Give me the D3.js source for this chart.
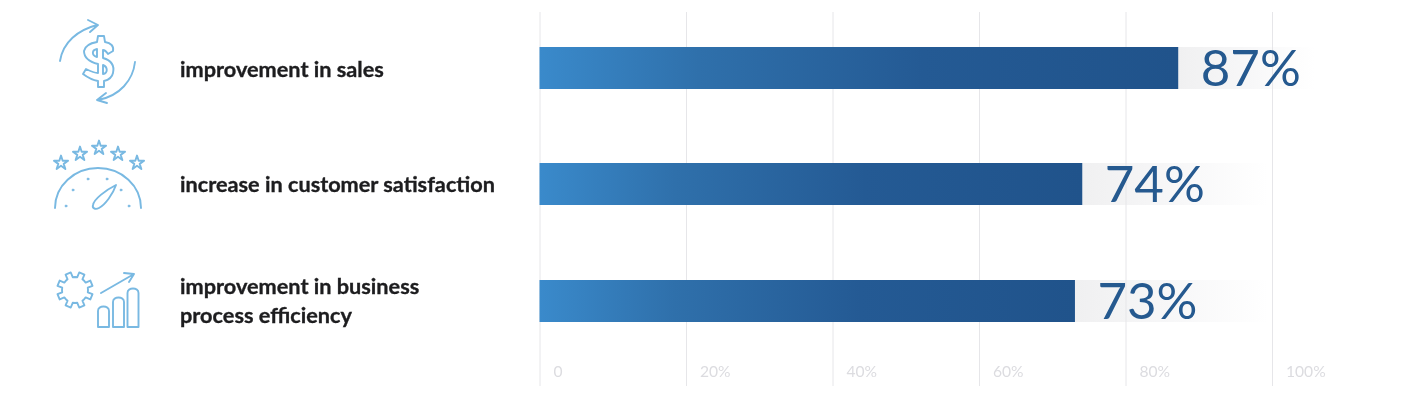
<!DOCTYPE html>
<html><head><meta charset="utf-8">
<script src="https://cdn.jsdelivr.net/npm/d3@7/dist/d3.min.js"></script>
<style>html,body{margin:0;padding:0;background:#fff}svg{display:block;filter:blur(0.5px)}text{font-family:Lato,"Open Sans",sans-serif}</style>
</head><body><svg id="c" width="1418" height="404"></svg>
<script>
const categories = [["improvement in sales"],["increase in customer satisfaction"],["improvement in business","process efficiency"]];
const values = [87.2,74.1,73.1];
const valueLabels = ["87%","74%","73%"];
const tickValues = [0,20,40,60,80,100];
const tickLabels = ["0","20%","40%","60%","80%","100%"];

const svg = d3.select("#c");
const x = d3.scaleLinear().domain([0,100]).range([539.5,1272]);
const barH = 42, barC = [68,184,301];
const defs = svg.append("defs");
const g1 = defs.append("linearGradient").attr("id","bar");
g1.append("stop").attr("offset","0").attr("stop-color","#3a8acb");
g1.append("stop").attr("offset","0.25").attr("stop-color","#2f70ab");
g1.append("stop").attr("offset","0.6").attr("stop-color","#245a94");
g1.append("stop").attr("offset","1").attr("stop-color","#20538b");
const g2 = defs.append("linearGradient").attr("id","fade");
g2.append("stop").attr("offset","0").attr("stop-color","#f0f0f1");
g2.append("stop").attr("offset","0.5").attr("stop-color","#f7f7f8");
g2.append("stop").attr("offset","1").attr("stop-color","#ffffff");

// grid and tick labels
const axis = d3.axisBottom(x).tickValues(tickValues).tickSize(-374).tickFormat((d,i)=>tickLabels[i]);
const ax = svg.append("g").attr("transform","translate(0,386)").call(axis);
ax.select(".domain").remove();
ax.selectAll("line").attr("stroke","#e6e6e9").attr("stroke-width",1);
ax.selectAll("text").attr("text-anchor","start").attr("dx",13.5)
  .attr("y",-9).attr("dy",0).attr("font-size",15.6).attr("fill","#dcdce0").attr("font-weight",400)
  .style("font-family","Lato");

// fading bands behind labels
svg.selectAll("rect.fade").data(values).join("rect").attr("class","fade")
  .attr("x",d=>x(d)).attr("y",(d,i)=>barC[i]-barH/2).attr("height",barH)
  .attr("width",(d,i)=>(i===0?1315:1268)-x(d)).attr("fill","url(#fade)");
ax.raise();
// bars
svg.selectAll("rect.bar").data(values).join("rect").attr("class","bar")
  .attr("x",x(0)).attr("y",(d,i)=>barC[i]-barH/2).attr("height",barH)
  .attr("width",d=>x(d)-x(0)).attr("fill","url(#bar)");
// value labels
svg.selectAll("text.val").data(values).join("text").attr("class","val")
  .attr("x",d=>x(d)+22.5).attr("y",(d,i)=>barC[i]+18)
  .attr("font-size",51).attr("fill","#25598f").attr("font-weight",400)
  .text((d,i)=>valueLabels[i]);
// category labels
const ly = [[77],[192],[294,323]];
categories.forEach((lines,i)=>lines.forEach((t,j)=>{
  svg.append("text").attr("x",180).attr("y",ly[i][j]).attr("font-size",21.7)
    .attr("font-weight",700).attr("fill","#1d1d1f").attr("stroke","#1d1d1f").attr("stroke-width",0.35).text(t);
}));

// icons
const ic = svg.append("g").attr("fill","none").attr("stroke","#79b9e2").attr("stroke-width",1.9)
  .attr("stroke-linecap","round").attr("stroke-linejoin","round");
// dollar icon
ic.append("path").attr("d","M60 61 C63 42 78 30 97 25 M88 20 L98 25 L90 32");
ic.append("path").attr("d","M135 62 C133 80 120 96 98 100 M106 93 L97 100 L107 103");
ic.append("path").attr("d","M98 36 L104 36 L105 42 C111 43 114 46 113 51 L108 54 C106 51 104 50 103 50 L103 58 C110 60 115 64 113 73 C112 78 108 80 104 81 L104 87 L98 87 L98 81 C92 80 87 77 83 74 L86 69 C90 71 94 73 98 73 L98 64 C90 62 84 58 84 51 C85 46 91 43 97 42 Z");
ic.append("path").attr("d","M97 49 C92 50 91 55 97 57 Z M103 65 L103 74 C108 73 108 67 103 65 Z");
// stars
const star = d3.symbol().type(d3.symbolStar).size(62);
[[61,163],[80,154],[99,148],[118,154],[137,163]].forEach(p=>{
  ic.append("path").attr("d",star()).attr("transform",`translate(${p[0]},${p[1]})`);
});
// gauge
ic.append("path").attr("d","M55 208 A43 40 0 0 1 141 208");
ic.append("path").attr("d","M93 205 C94 199 106 190 116 185 C113 194 105 205 99 208 C95 210 92 208 93 205 Z");
[[66,206],[73,190],[88,179],[107,179],[121,190],[129,206]].forEach(p=>{
  ic.append("circle").attr("cx",p[0]).attr("cy",p[1]).attr("r",1).attr("fill","#79b9e2").attr("stroke-width",0.8);
});
// gear
const gear = [];
const cx=75, cy=290, teeth=8;
for(let i=0;i<teeth;i++){
  const a=(i+0.5)/teeth*2*Math.PI, w=Math.PI/teeth;
  [[13,-w],[13,-w*0.55],[18,-w*0.4],[18,w*0.4],[13,w*0.55],[13,w]].forEach(q=>gear.push([cx+q[0]*Math.cos(a+q[1]),cy+q[0]*Math.sin(a+q[1])]));
}
ic.append("path").attr("d",d3.line()(gear)+"Z");
// arrow + mini bars
ic.append("path").attr("d","M101 293 L134 274 M124 273 L134 274 L129 282");
[[98,306,11],[113,297,11],[127.5,288,11]].forEach(b=>{
  const [bx,by,bw]=b;
  ic.append("path").attr("d",`M${bx} 327 L${bx} ${by+5} C${bx} ${by-1} ${bx+bw} ${by-1} ${bx+bw} ${by+5} L${bx+bw} 327 Z`);
});
</script></body></html>
